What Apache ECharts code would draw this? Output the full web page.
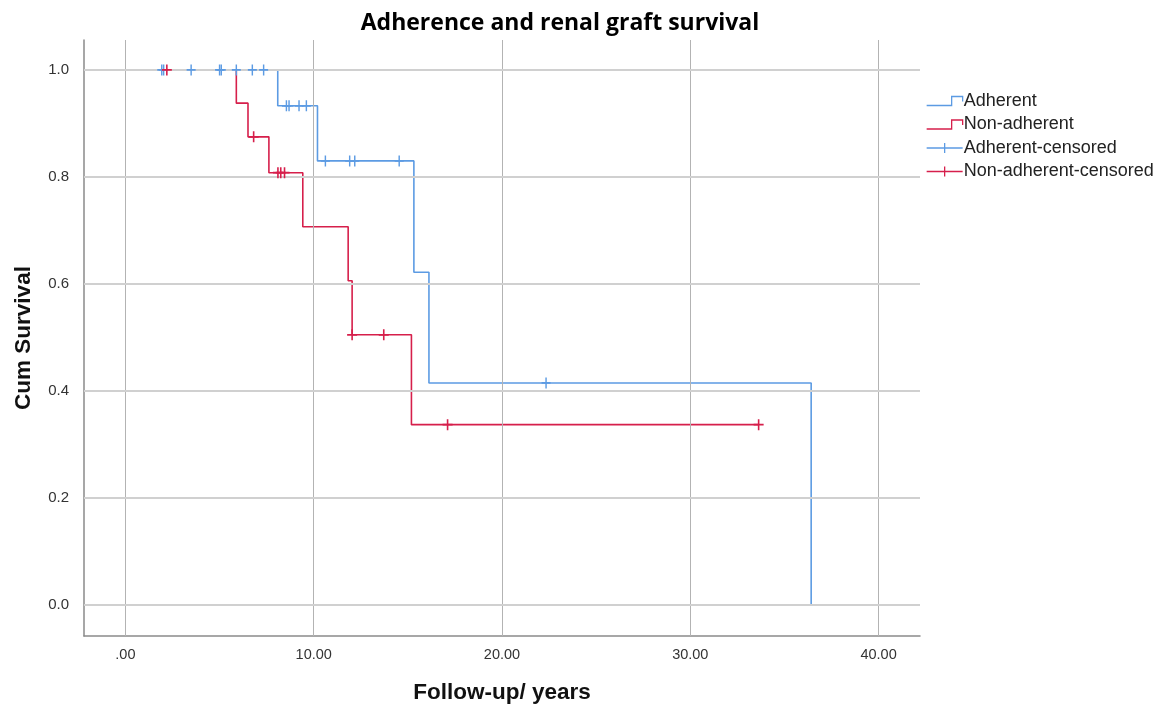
<!DOCTYPE html>
<html>
<head>
<meta charset="utf-8">
<script src="https://cdn.jsdelivr.net/npm/echarts@6/dist/echarts.min.js"></script>
<style>html,body{margin:0;padding:0;background:#fff;}#c{width:1169px;height:709px;}</style>
</head>
<body>
<div id="c"></div>
<script>
const xTicks = [0, 10, 20, 30, 40];
const yTicks = [0, 0.2, 0.4, 0.6, 0.8, 1.0];
const seriesNames = ['Adherent', 'Non-adherent', 'Adherent-censored', 'Non-adherent-censored'];
// Kaplan-Meier steps: [time (years), survival after event]
const adherentSteps = [[0, 1], [8.09, 0.933], [10.2, 0.830], [15.32, 0.622], [16.12, 0.415], [36.42, 0]];
const nonAdherentSteps = [[0, 1], [5.89, 0.938], [6.51, 0.875], [7.62, 0.808], [9.42, 0.707], [11.83, 0.606], [12.04, 0.505], [15.19, 0.337], [33.63, 0.337]];
// censored observations
const adherentCensored = [[1.93, 1], [2.03, 1], [3.49, 1], [5.0, 1], [5.09, 1], [5.89, 1], [6.74, 1], [7.34, 1],
  [8.55, 0.933], [8.69, 0.933], [9.22, 0.933], [9.61, 0.933],
  [10.62, 0.830], [11.91, 0.830], [12.18, 0.830], [14.54, 0.830], [22.34, 0.415]];
const nonAdherentCensored = [[2.2, 1], [6.81, 0.875], [8.1, 0.808], [8.25, 0.808], [8.45, 0.808],
  [12.04, 0.505], [13.72, 0.505], [17.11, 0.337], [33.63, 0.337]];

const BLUE = '#5c9be3';
const RED = '#d61f4b';
const plusPath = 'path://M4.2,0 h1.6 v4.2 h4.2 v1.6 h-4.2 v4.2 h-1.6 v-4.2 h-4.2 v-1.6 h4.2 z';
const stepIcon = 'path://M0,9 L25,9 L25,0 L36,0 L36,5';
const crossIcon = 'path://M0,5 L36,5 M18,0 L18,10';

const chart = echarts.init(document.getElementById('c'), null, {renderer: 'canvas'});
const option = {
  animation: false,
  backgroundColor: '#ffffff',
  title: {
    text: 'Adherence and renal graft survival',
    left: 555, top: 7, textAlign: 'center',
    textStyle: {fontFamily: 'Open Sans', fontWeight: 'bold', fontSize: 23, color: '#000'}
  },
  legend: {
    orient: 'vertical', left: 921, top: 87,
    itemWidth: 36, itemHeight: 11, itemGap: 5.5,
    textStyle: {fontFamily: 'Liberation Sans', fontSize: 18, color: '#222', padding: [0, 0, 0, -4]},
    data: [
      {name: seriesNames[0], icon: stepIcon, itemStyle: {color: 'rgba(0,0,0,0)', borderColor: BLUE, borderWidth: 1.3}},
      {name: seriesNames[1], icon: stepIcon, itemStyle: {color: 'rgba(0,0,0,0)', borderColor: RED, borderWidth: 1.3}},
      {name: seriesNames[2], icon: crossIcon, itemStyle: {color: 'rgba(0,0,0,0)', borderColor: BLUE, borderWidth: 1.3}},
      {name: seriesNames[3], icon: crossIcon, itemStyle: {color: 'rgba(0,0,0,0)', borderColor: RED, borderWidth: 1.3}}
    ]
  },
  grid: {left: 84, right: 249, top: 40, bottom: 73},
  xAxis: {
    type: 'value', min: -2.2, max: 42.2,
    name: 'Follow-up/ years', nameLocation: 'middle', nameGap: 45,
    nameTextStyle: {fontFamily: 'Liberation Sans', fontWeight: 'bold', fontSize: 22.5, color: '#111'},
    axisLine: {show: true, onZero: false, lineStyle: {color: '#8a8a8a', width: 1.5}},
    axisTick: {show: false},
    splitLine: {show: false},
    axisLabel: {
      customValues: xTicks, margin: 11,
      fontFamily: 'Liberation Sans', fontSize: 14.5, color: '#333',
      formatter: v => (v === 0 ? '.00' : v.toFixed(2))
    }
  },
  yAxis: {
    type: 'value', min: -0.058, max: 1.056,
    name: 'Cum Survival', nameLocation: 'middle', nameGap: 49,
    nameTextStyle: {fontFamily: 'Liberation Sans', fontWeight: 'bold', fontSize: 22.5, color: '#111'},
    axisLine: {show: true, onZero: false, lineStyle: {color: '#8a8a8a', width: 1.5}},
    axisTick: {show: false},
    splitLine: {show: false},
    axisLabel: {
      customValues: yTicks, margin: 15,
      fontFamily: 'Liberation Sans', fontSize: 15, color: '#333',
      formatter: v => v.toFixed(1)
    }
  },
  series: [
    {
      name: 'grid', type: 'line', data: [], silent: true, z: 1,
      markLine: {
        silent: true, symbol: 'none', label: {show: false},
        animation: false,
        data: [
          ...xTicks.map(v => ({xAxis: v, lineStyle: {color: '#b3b3b3', width: 1, type: 'solid'}})),
          ...yTicks.map(v => ({yAxis: v, lineStyle: {color: '#d0d0d0', width: 2, type: 'solid'}}))
        ]
      }
    },
    {
      name: seriesNames[0], type: 'line', step: 'end', data: adherentSteps, z: 3,
      showSymbol: false, symbol: 'none',
      lineStyle: {color: BLUE, width: 1.6}, itemStyle: {color: BLUE}
    },
    {
      name: seriesNames[1], type: 'line', step: 'end', data: nonAdherentSteps, z: 4,
      showSymbol: false, symbol: 'none',
      lineStyle: {color: RED, width: 1.6}, itemStyle: {color: RED}
    },
    {
      name: seriesNames[2], type: 'scatter', data: adherentCensored, z: 5,
      symbol: plusPath, symbolSize: [9, 11],
      itemStyle: {color: BLUE, opacity: 1}
    },
    {
      name: seriesNames[3], type: 'scatter', data: nonAdherentCensored, z: 6,
      symbol: plusPath, symbolSize: [10, 11],
      itemStyle: {color: RED, opacity: 1}
    }
  ]
};
chart.setOption(option);
</script>
</body>
</html>
